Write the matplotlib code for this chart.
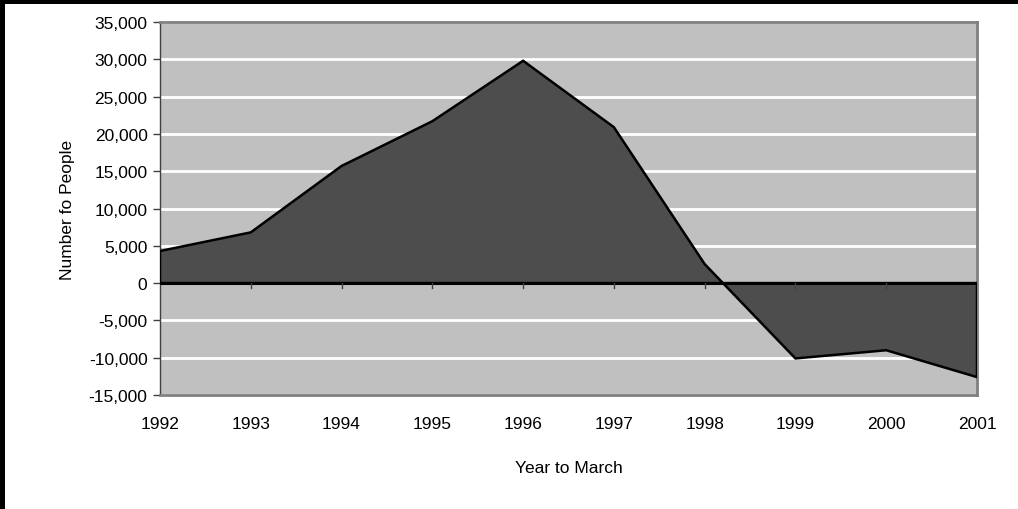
import numpy as np
import matplotlib
matplotlib.use("Agg")
import matplotlib.pyplot as plt
from matplotlib.patches import Polygon, Rectangle
from matplotlib.ticker import FuncFormatter

plt.rcParams['font.family'] = ['Liberation Sans', 'DejaVu Sans']

years  = ["1992", "1993", "1994", "1995", "1996", "1997", "1998", "1999", "2000", "2001"]
values = [4300, 6800, 15700, 21700, 29800, 20900, 2550, -10100, -9000, -12600]

W, H = 1018, 510
FS = 12.5
fig = plt.figure(figsize=(W / 100, H / 100), dpi=100)
ax = fig.add_axes([160 / W, 1 - 396 / H, (977 - 160) / W, (396 - 23) / H])

x = np.arange(len(years))
ax.set_facecolor("#c0c0c0")
ax.set_xlim(0, len(years) - 1)
ax.set_ylim(-15000, 35000)
ax.set_yticks(np.arange(-15000, 35001, 5000))
ax.yaxis.set_major_formatter(FuncFormatter(lambda v, p: f"{int(v):,}"))
ax.grid(axis="y", color="white", linewidth=2)
ax.set_axisbelow(True)

# area polygon, closed down to zero
pts = [(x[0], 0)] + list(zip(x, values)) + [(x[-1], 0)]
ax.add_patch(Polygon(pts, closed=True, facecolor="#4d4d4d", edgecolor="black",
                     linewidth=1.8, zorder=3, joinstyle="miter"))
ax.axhline(0, color="black", linewidth=2.2, zorder=4)

# category ticks on zero line
for xi in x[1:-1]:
    ax.plot([xi, xi], [0, -600], color="#404040", linewidth=1, zorder=4)

ax.set_xticks(x)
ax.set_xticklabels(years)
ax.tick_params(axis="x", length=0, pad=15, labelsize=FS)
ax.tick_params(axis="y", length=5, width=1, color="#404040", labelsize=FS, pad=4)
for s in ax.spines.values():
    s.set_color("#808080")
    s.set_linewidth(2)
ax.spines["left"].set_color("#404040")
ax.spines["left"].set_linewidth(1)

ax.set_ylabel("Number fo People", fontsize=FS, labelpad=10)
ax.set_xlabel("Year to March", fontsize=FS, labelpad=21)

# black frame on top and left of the picture
fig.add_artist(Rectangle((0, 1 - 5 / H), 1, 5 / H, transform=fig.transFigure,
                         facecolor="black", edgecolor="none", zorder=10))
fig.add_artist(Rectangle((0, 0), 5 / W, 1, transform=fig.transFigure,
                         facecolor="black", edgecolor="none", zorder=10))

fig.savefig("out.png", dpi=100, facecolor="white")
